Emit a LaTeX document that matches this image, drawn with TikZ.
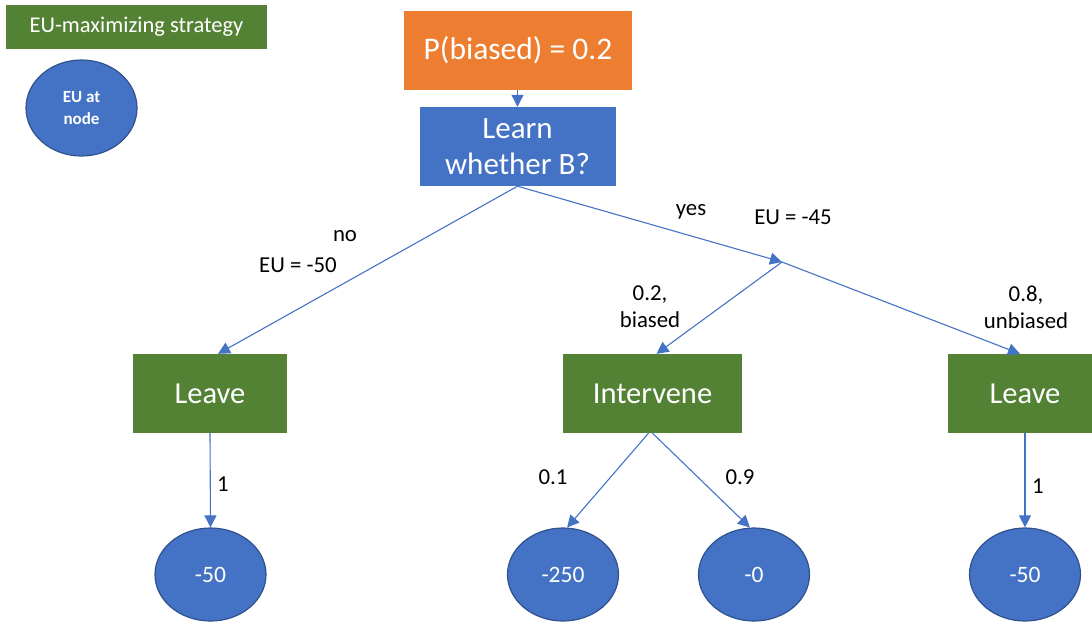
\documentclass[tikz,border=0pt]{standalone}
\usepackage{fontspec}
\setmainfont{Carlito}
\usetikzlibrary{arrows.meta,shapes.geometric}
\definecolor{pgreen}{HTML}{548235}
\definecolor{porange}{HTML}{ED7D31}
\definecolor{pblue}{HTML}{4472C4}
\definecolor{pblueedge}{HTML}{2F528F}
\begin{document}
\begin{tikzpicture}[x=1pt,y=-1pt,
  box/.style={rectangle, draw=none, text=white, align=center, inner sep=0pt},
  greenbox/.style={box, fill=pgreen, font=\fontsize{30.5}{34}\selectfont, minimum height=79pt},
  leaf/.style={ellipse, fill=pblue, draw=pblueedge, line width=1.2pt, text=white, minimum width=111pt, minimum height=93pt, inner sep=0pt, font=\fontsize{23.5}{26}\selectfont},
  conn/.style={draw=pblue, line width=1.1pt, -{Triangle[length=12pt,width=12pt]}},
  lbl/.style={text=black, align=center, inner sep=0pt, font=\fontsize{22.8}{27}\selectfont}]
\useasboundingbox (0,0) rectangle (1092,622);
\clip (0,0) rectangle (1092,622);
% legend
\node[box, fill=pgreen, minimum width=261pt, minimum height=44pt, font=\fontsize{22.5}{26}\selectfont] (legbox) at (136.5,27) {EU-maximizing strategy};
\node[leaf, minimum height=96pt, font=\fontsize{17}{22}\bfseries\selectfont, align=center] (legell) at (81.5,108) {EU at\\node};
% top boxes
\node[box, fill=porange, minimum width=228pt, minimum height=79pt, font=\fontsize{31.5}{35}\selectfont] (prior) at (518,50.5) {P(biased) = 0.2};
\node[box, fill=pblue, minimum width=196pt, minimum height=79pt, font=\fontsize{31}{36}\selectfont] (learn) at (517.5,146.5) {Learn\\whether B?};
% decision boxes
\node[greenbox, minimum width=154pt] (leaveL) at (210,393.5) {Leave};
\node[greenbox, minimum width=179pt] (interv) at (652.5,393.5) {Intervene};
\node[greenbox, minimum width=154pt] (leaveR) at (1025,393.5) {Leave};
% leaves
\node[leaf] (eL) at (210.5,574.5) {-50};
\node[leaf] (e250) at (563,574.5) {-250};
\node[leaf] (e0) at (754,574.5) {-0};
\node[leaf] (eR) at (1025,574.5) {-50};
\coordinate (chance) at (782,262);
% connectors
\draw[conn] (prior.south -| learn.south) -- (learn.north);
\draw[conn] (learn.south) -- ([xshift=8pt]leaveL.north);
\draw[conn] (learn.south) -- (chance);
\draw[conn] (chance) -- ([xshift=-5pt]leaveR.north);
\draw[conn] (chance) -- ([xshift=4pt]interv.north);
\draw[conn] (leaveL.south) -- (eL.north);
\draw[conn] ([xshift=-4pt]interv.south) -- (e250.85);
\draw[conn] (interv.south) -- (e0.95);
\draw[conn] (leaveR.south) -- (eR.north);
% labels
\node[lbl] (lno) at (345,236) {no};
\node[lbl] (leu50) at (298,265) {EU = -50};
\node[lbl] (lyes) at (691,212) {yes};
\node[lbl] (leu45) at (793,217) {EU = -45};
\node[lbl] (lbiased) at (650,307) {0.2,\\biased};
\node[lbl] (lunb) at (1026,307) {0.8,\\unbiased};
\node[lbl] (l1a) at (223,484) {1};
\node[lbl] (l01) at (553,477) {0.1};
\node[lbl] (l09) at (740,477) {0.9};
\node[lbl] (l1b) at (1038,486) {1};
\end{tikzpicture}
\end{document}
